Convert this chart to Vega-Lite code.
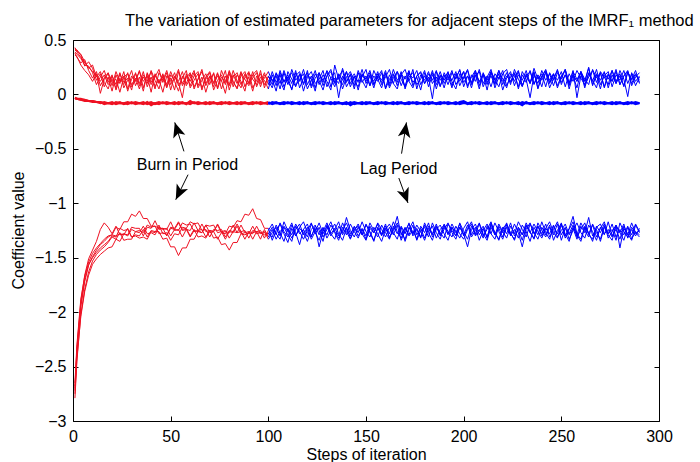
{
"$schema": "https://vega.github.io/schema/vega-lite/v6.json",
"width": 586, "height": 381,
"autosize": "none",
"padding": {"left": 73, "top": 40, "right": 41, "bottom": 41},
"background": "white",
"config": {
 "view": {"stroke": "black", "strokeWidth": 1},
 "font": "Liberation Sans",
 "axis": {"labelColor": "black", "tickColor": "black", "titleColor": "black", "grid": false, "domain": false, "labelFontSize": 16, "titleFontSize": 16, "titleFontWeight": "normal", "tickSize": -5}
},
"title": {"text": "The variation of estimated parameters for adjacent steps of the IMRF₁ method", "anchor": "start", "frame": "group", "dx": 52, "dy": 25, "offset": 15, "baseline": "alphabetic", "fontSize": 16.5, "fontWeight": "normal", "color": "black", "font": "Liberation Sans"},
"datasets": {
"chains": [
{"x":1,"a":0.42,"b":0.40,"c":0.38,"d":0.43,"e":0.36,"f":0.39,"g":-0.03,"h":-0.04,"i":-0.03,"j":-2.79,"k":-2.72,"l":-2.65,"m":-2.75,"n":-2.70,"o":-2.68},
{"x":2,"a":0.39,"b":0.41,"c":0.34,"d":0.40,"e":0.35,"f":0.37,"g":-0.04,"h":-0.04,"i":-0.04,"j":-2.45,"k":-2.38,"l":-2.30,"m":-2.42,"n":-2.35,"o":-2.33},
{"x":4,"a":0.34,"b":0.36,"c":0.29,"d":0.37,"e":0.27,"f":0.33,"g":-0.05,"h":-0.05,"i":-0.04,"j":-2.02,"k":-1.95,"l":-1.88,"m":-2.04,"n":-1.93,"o":-1.90},
{"x":6,"a":0.29,"b":0.26,"c":0.32,"d":0.30,"e":0.22,"f":0.27,"g":-0.05,"h":-0.06,"i":-0.05,"j":-1.79,"k":-1.72,"l":-1.67,"m":-1.81,"n":-1.70,"o":-1.66},
{"x":8,"a":0.25,"b":0.30,"c":0.22,"d":0.24,"e":0.18,"f":0.26,"g":-0.06,"h":-0.06,"i":-0.06,"j":-1.63,"k":-1.57,"l":-1.54,"m":-1.66,"n":-1.56,"o":-1.51},
{"x":10,"a":0.21,"b":0.24,"c":0.15,"d":0.27,"e":0.12,"f":0.20,"g":-0.06,"h":-0.07,"i":-0.06,"j":-1.53,"k":-1.49,"l":-1.46,"m":-1.56,"n":-1.50,"o":-1.43},
{"x":12,"a":0.17,"b":0.13,"c":0.21,"d":0.16,"e":0.19,"f":0.09,"g":-0.07,"h":-0.07,"i":-0.07,"j":-1.47,"k":-1.43,"l":-1.41,"m":-1.51,"n":-1.45,"o":-1.35},
{"x":14,"a":0.12,"b":0.19,"c":0.08,"d":0.21,"e":0.01,"f":0.16,"g":-0.07,"h":-0.08,"i":-0.07,"j":-1.43,"k":-1.38,"l":-1.37,"m":-1.47,"n":-1.41,"o":-1.24},
{"x":16,"a":0.18,"b":0.07,"c":0.15,"d":0.11,"e":0.14,"f":0.22,"g":-0.08,"h":-0.07,"i":-0.09,"j":-1.40,"k":-1.35,"l":-1.33,"m":-1.44,"n":-1.38,"o":-1.18},
{"x":18,"a":0.09,"b":0.16,"c":0.20,"d":0.05,"e":0.19,"f":0.11,"g":-0.08,"h":-0.08,"i":-0.08,"j":-1.36,"k":-1.31,"l":-1.30,"m":-1.41,"n":-1.35,"o":-1.22},
{"x":20,"a":0.14,"b":0.03,"c":0.11,"d":0.17,"e":0.08,"f":0.18,"g":-0.07,"h":-0.08,"i":-0.09,"j":-1.31,"k":-1.29,"l":-1.29,"m":-1.40,"n":-1.30,"o":-1.28},
{"x":22,"a":0.06,"b":0.18,"c":0.14,"d":0.09,"e":0.21,"f":0.04,"g":-0.09,"h":-0.08,"i":-0.07,"j":-1.33,"k":-1.22,"l":-1.30,"m":-1.33,"n":-1.31,"o":-1.21},
{"x":24,"a":0.19,"b":0.10,"c":0.02,"d":0.20,"e":0.12,"f":0.15,"g":-0.08,"h":-0.07,"i":-0.08,"j":-1.27,"k":-1.24,"l":-1.28,"m":-1.35,"n":-1.23,"o":-1.29},
{"x":26,"a":0.11,"b":0.21,"c":0.16,"d":0.06,"e":0.17,"f":0.09,"g":-0.08,"h":-0.09,"i":-0.08,"j":-1.34,"k":-1.17,"l":-1.29,"m":-1.28,"n":-1.25,"o":-1.28},
{"x":28,"a":0.15,"b":0.05,"c":0.19,"d":0.13,"e":0.03,"f":0.20,"g":-0.07,"h":-0.08,"i":-0.09,"j":-1.33,"k":-1.17,"l":-1.23,"m":-1.30,"n":-1.24,"o":-1.29},
{"x":30,"a":0.04,"b":0.17,"c":0.09,"d":0.22,"e":0.14,"f":0.07,"g":-0.08,"h":-0.08,"i":-0.07,"j":-1.33,"k":-1.10,"l":-1.31,"m":-1.24,"n":-1.31,"o":-1.22},
{"x":32,"a":0.20,"b":0.12,"c":0.15,"d":0.08,"e":0.19,"f":0.13,"g":-0.08,"h":-0.07,"i":-0.09,"j":-1.26,"k":-1.12,"l":-1.30,"m":-1.26,"n":-1.29,"o":-1.23},
{"x":34,"a":0.08,"b":0.22,"c":0.05,"d":0.16,"e":0.10,"f":0.21,"g":-0.08,"h":-0.08,"i":-0.08,"j":-1.27,"k":-1.07,"l":-1.32,"m":-1.25,"n":-1.30,"o":-1.23},
{"x":36,"a":0.16,"b":0.06,"c":0.18,"d":0.03,"e":0.21,"f":0.12,"g":-0.07,"h":-0.08,"i":-0.09,"j":-1.21,"k":-1.14,"l":-1.31,"m":-1.27,"n":-1.24,"o":-1.30},
{"x":38,"a":0.10,"b":0.19,"c":0.12,"d":0.20,"e":0.07,"f":0.17,"g":-0.09,"h":-0.08,"i":-0.07,"j":-1.28,"k":-1.14,"l":-1.33,"m":-1.20,"n":-1.31,"o":-1.22},
{"x":40,"a":0.22,"b":0.09,"c":0.21,"d":0.11,"e":0.16,"f":0.02,"g":-0.08,"h":-0.07,"i":-0.10,"j":-1.27,"k":-1.21,"l":-1.26,"m":-1.22,"n":-1.25,"o":-1.23},
{"x":42,"a":0.13,"b":0.16,"c":0.07,"d":0.18,"e":0.05,"f":0.19,"g":-0.08,"h":-0.09,"i":-0.08,"j":-1.29,"k":-1.21,"l":-1.27,"m":-1.21,"n":-1.26,"o":-1.16},
{"x":44,"a":0.05,"b":0.23,"c":0.14,"d":0.10,"e":0.20,"f":0.11,"g":-0.07,"h":-0.08,"i":-0.09,"j":-1.22,"k":-1.23,"l":-1.20,"m":-1.28,"n":-1.26,"o":-1.24},
{"x":46,"a":0.18,"b":0.11,"c":0.02,"d":0.19,"e":0.13,"f":0.16,"g":-0.08,"h":-0.08,"i":-0.07,"j":-1.24,"k":-1.23,"l":-1.28,"m":-1.27,"n":-1.33,"o":-1.23},
{"x":48,"a":0.09,"b":0.20,"c":0.17,"d":0.07,"e":0.22,"f":0.06,"g":-0.08,"h":-0.07,"i":-0.09,"j":-1.23,"k":-1.30,"l":-1.27,"m":-1.29,"n":-1.32,"o":-1.24},
{"x":50,"a":0.21,"b":0.04,"c":0.12,"d":0.15,"e":0.09,"f":0.18,"g":-0.08,"h":-0.08,"i":-0.08,"j":-1.30,"k":-1.23,"l":-1.34,"m":-1.22,"n":-1.40,"o":-1.17},
{"x":52,"a":0.12,"b":0.17,"c":0.20,"d":0.04,"e":0.16,"f":0.13,"g":-0.07,"h":-0.08,"i":-0.09,"j":-1.24,"k":-1.24,"l":-1.28,"m":-1.23,"n":-1.40,"o":-1.25},
{"x":54,"a":0.03,"b":0.12,"c":0.08,"d":0.21,"e":0.11,"f":0.23,"g":-0.09,"h":-0.08,"i":-0.07,"j":-1.25,"k":-1.18,"l":-1.29,"m":-1.17,"n":-1.48,"o":-1.24},
{"x":56,"a":0.17,"b":0.21,"c":0.15,"d":0.10,"e":-0.03,"f":0.08,"g":-0.08,"h":-0.07,"i":-0.08,"j":-1.18,"k":-1.25,"l":-1.22,"m":-1.24,"n":-1.41,"o":-1.31},
{"x":58,"a":0.10,"b":0.08,"c":0.22,"d":0.17,"e":0.19,"f":0.15,"g":-0.08,"h":-0.09,"i":-0.08,"j":-1.20,"k":-1.24,"l":-1.23,"m":-1.23,"n":-1.41,"o":-1.24},
{"x":60,"a":0.19,"b":0.15,"c":0.06,"d":0.12,"e":0.08,"f":0.20,"g":-0.07,"h":-0.06,"i":-0.09,"j":-1.19,"k":-1.31,"l":-1.17,"m":-1.30,"n":-1.33,"o":-1.25},
{"x":62,"a":0.07,"b":0.22,"c":0.13,"d":0.20,"e":0.17,"f":0.05,"g":-0.08,"h":-0.08,"i":-0.07,"j":-1.26,"k":-1.25,"l":-1.19,"m":-1.24,"n":-1.33,"o":-1.18},
{"x":64,"a":0.14,"b":0.06,"c":0.19,"d":0.08,"e":0.21,"f":0.14,"g":-0.08,"h":-0.07,"i":-0.09,"j":-1.25,"k":-1.26,"l":-1.18,"m":-1.31,"n":-1.26,"o":-1.25},
{"x":66,"a":0.23,"b":0.13,"c":0.04,"d":0.16,"e":0.06,"f":0.21,"g":-0.08,"h":-0.08,"i":-0.08,"j":-1.27,"k":-1.19,"l":-1.25,"m":-1.30,"n":-1.27,"o":-1.24},
{"x":68,"a":0.08,"b":0.19,"c":0.16,"d":0.02,"e":0.14,"f":0.10,"g":-0.07,"h":-0.08,"i":-0.09,"j":-1.20,"k":-1.26,"l":-1.24,"m":-1.32,"n":-1.20,"o":-1.31},
{"x":70,"a":0.16,"b":0.09,"c":0.21,"d":0.14,"e":0.20,"f":0.17,"g":-0.09,"h":-0.08,"i":-0.07,"j":-1.21,"k":-1.25,"l":-1.31,"m":-1.25,"n":-1.27,"o":-1.25},
{"x":72,"a":0.11,"b":0.20,"c":0.10,"d":0.19,"e":0.04,"f":0.07,"g":-0.08,"h":-0.07,"i":-0.08,"j":-1.20,"k":-1.32,"l":-1.24,"m":-1.26,"n":-1.26,"o":-1.26},
{"x":74,"a":0.20,"b":0.05,"c":0.17,"d":0.06,"e":0.13,"f":0.19,"g":-0.08,"h":-0.09,"i":-0.08,"j":-1.27,"k":-1.31,"l":-1.25,"m":-1.19,"n":-1.33,"o":-1.20},
{"x":76,"a":0.05,"b":0.16,"c":0.13,"d":0.22,"e":0.18,"f":0.12,"g":-0.07,"h":-0.08,"i":-0.09,"j":-1.26,"k":-1.38,"l":-1.24,"m":-1.26,"n":-1.27,"o":-1.27},
{"x":78,"a":0.17,"b":0.11,"c":0.01,"d":0.13,"e":0.09,"f":0.22,"g":-0.08,"h":-0.08,"i":-0.07,"j":-1.33,"k":-1.37,"l":-1.31,"m":-1.25,"n":-1.28,"o":-1.26},
{"x":80,"a":0.09,"b":0.21,"c":0.19,"d":0.08,"e":0.22,"f":0.04,"g":-0.08,"h":-0.07,"i":-0.09,"j":-1.26,"k":-1.43,"l":-1.25,"m":-1.32,"n":-1.21,"o":-1.27},
{"x":82,"a":0.22,"b":0.07,"c":0.11,"d":0.18,"e":0.12,"f":0.16,"g":-0.08,"h":-0.08,"i":-0.08,"j":-1.27,"k":-1.36,"l":-1.26,"m":-1.26,"n":-1.22,"o":-1.20},
{"x":84,"a":0.12,"b":0.18,"c":0.06,"d":0.10,"e":0.05,"f":0.20,"g":-0.07,"h":-0.08,"i":-0.09,"j":-1.21,"k":-1.36,"l":-1.19,"m":-1.27,"n":-1.16,"o":-1.27},
{"x":86,"a":0.06,"b":0.12,"c":0.20,"d":0.21,"e":0.17,"f":0.09,"g":-0.09,"h":-0.08,"i":-0.07,"j":-1.28,"k":-1.28,"l":-1.26,"m":-1.20,"n":-1.17,"o":-1.26},
{"x":88,"a":0.19,"b":0.03,"c":0.14,"d":0.07,"e":0.21,"f":0.15,"g":-0.08,"h":-0.07,"i":-0.08,"j":-1.27,"k":-1.29,"l":-1.25,"m":-1.27,"n":-1.10,"o":-1.33},
{"x":90,"a":0.10,"b":0.20,"c":0.08,"d":0.16,"e":0.10,"f":0.21,"g":-0.08,"h":-0.09,"i":-0.08,"j":-1.28,"k":-1.27,"l":-1.32,"m":-1.26,"n":-1.11,"o":-1.26},
{"x":92,"a":0.21,"b":0.14,"c":0.18,"d":0.03,"e":0.15,"f":0.06,"g":-0.07,"h":-0.08,"i":-0.09,"j":-1.21,"k":-1.28,"l":-1.25,"m":-1.33,"n":-1.05,"o":-1.27},
{"x":94,"a":0.07,"b":0.09,"c":0.22,"d":0.17,"e":0.20,"f":0.13,"g":-0.08,"h":-0.08,"i":-0.07,"j":-1.28,"k":-1.21,"l":-1.26,"m":-1.26,"n":-1.14,"o":-1.26},
{"x":96,"a":0.16,"b":0.22,"c":0.10,"d":0.12,"e":0.07,"f":0.19,"g":-0.08,"h":-0.07,"i":-0.09,"j":-1.27,"k":-1.28,"l":-1.25,"m":-1.27,"n":-1.15,"o":-1.33},
{"x":98,"a":0.13,"b":0.06,"c":0.15,"d":0.20,"e":0.18,"f":0.09,"g":-0.08,"h":-0.08,"i":-0.08,"j":-1.29,"k":-1.27,"l":-1.32,"m":-1.26,"n":-1.23,"o":-1.24},
{"x":100,"a":0.05,"b":0.17,"c":0.21,"d":0.09,"e":0.13,"f":0.16,"g":-0.07,"h":-0.08,"i":-0.09,"j":-1.28,"k":-1.28,"l":-1.25,"m":-1.33,"n":-1.23,"o":-1.31},
{"x":102,"a":0.18,"b":0.09,"c":0.12,"d":0.21,"e":0.06,"f":0.14,"g":-0.09,"h":-0.08,"i":-0.07,"j":-1.22,"k":-1.31,"l":-1.19,"m":-1.27,"n":-1.34,"o":-1.24},
{"x":104,"a":0.08,"b":0.20,"c":0.17,"d":0.11,"e":0.19,"f":0.03,"g":-0.08,"h":-0.07,"i":-0.08,"j":-1.29,"k":-1.20,"l":-1.28,"m":-1.22,"n":-1.25,"o":-1.33},
{"x":106,"a":0.22,"b":0.13,"c":0.05,"d":0.18,"e":0.10,"f":0.20,"g":-0.08,"h":-0.09,"i":-0.08,"j":-1.18,"k":-1.27,"l":-1.33,"m":-1.30,"n":-1.19,"o":-1.26},
{"x":108,"a":0.11,"b":0.04,"c":0.20,"d":0.07,"e":0.22,"f":0.12,"g":-0.07,"h":-0.08,"i":-0.09,"j":-1.26,"k":-1.35,"l":-1.21,"m":-1.17,"n":-1.28,"o":-1.22},
{"x":110,"a":0.16,"b":0.21,"c":0.09,"d":0.15,"e":0.12,"f":0.18,"g":-0.08,"h":-0.08,"i":-0.07,"j":-1.31,"k":-1.23,"l":-1.26,"m":-1.25,"n":-1.36,"o":-1.29},
{"x":112,"a":0.04,"b":0.14,"c":0.23,"d":0.20,"e":0.05,"f":0.10,"g":-0.08,"h":-0.07,"i":-0.09,"j":-1.20,"k":-1.29,"l":-1.18,"m":-1.32,"n":-1.23,"o":-1.35},
{"x":114,"a":0.20,"b":0.07,"c":0.13,"d":0.08,"e":0.17,"f":0.22,"g":-0.08,"h":-0.08,"i":-0.08,"j":-1.27,"k":-1.19,"l":-1.30,"m":-1.24,"n":-1.30,"o":-1.21},
{"x":116,"a":0.12,"b":0.19,"c":0.18,"d":0.14,"e":0.21,"f":0.06,"g":-0.07,"h":-0.08,"i":-0.09,"j":-1.38,"k":-1.26,"l":-1.23,"m":-1.19,"n":-1.22,"o":-1.28},
{"x":118,"a":0.23,"b":0.10,"c":0.03,"d":0.19,"e":0.09,"f":0.15,"g":-0.09,"h":-0.08,"i":-0.07,"j":-1.24,"k":-1.33,"l":-1.27,"m":-1.29,"n":-1.17,"o":-1.24},
{"x":120,"a":0.09,"b":0.22,"c":0.16,"d":0.05,"e":0.18,"f":0.20,"g":-0.08,"h":-0.07,"i":-0.08,"j":-1.19,"k":-1.25,"l":-1.35,"m":-1.22,"n":-1.27,"o":-1.31},
{"x":122,"a":0.17,"b":0.06,"c":0.21,"d":0.13,"e":0.14,"f":0.08,"g":-0.08,"h":-0.09,"i":-0.08,"j":-1.30,"k":-1.18,"l":-1.24,"m":-1.33,"n":-1.31,"o":-1.19},
{"x":124,"a":0.06,"b":0.15,"c":0.10,"d":0.22,"e":0.03,"f":0.19,"g":-0.07,"h":-0.08,"i":-0.09,"j":-1.23,"k":-1.28,"l":-1.20,"m":-1.26,"n":-1.21,"o":-1.27},
{"x":126,"a":0.19,"b":0.20,"c":0.14,"d":0.09,"e":0.20,"f":0.13,"g":-0.08,"h":-0.08,"i":-0.07,"j":-1.40,"k":-1.22,"l":-1.29,"m":-1.18,"n":-1.25,"o":-1.34},
{"x":128,"a":0.13,"b":0.08,"c":0.22,"d":0.18,"e":0.11,"f":0.04,"g":-0.08,"h":-0.07,"i":-0.09,"j":-1.26,"k":-1.31,"l":-1.22,"m":-1.28,"n":-1.35,"o":-1.23},
{"x":130,"a":0.21,"b":0.17,"c":0.07,"d":0.12,"e":0.22,"f":0.17,"g":-0.08,"h":-0.08,"i":-0.08,"j":-1.18,"k":-1.24,"l":-1.32,"m":-1.21,"n":-1.20,"o":-1.29},
{"x":132,"a":0.07,"b":0.23,"c":0.15,"d":0.04,"e":0.15,"f":0.21,"g":-0.07,"h":-0.08,"i":-0.09,"j":-1.28,"k":-1.17,"l":-1.25,"m":-1.30,"n":-1.28,"o":-1.20},
{"x":134,"a":0.15,"b":0.11,"c":0.20,"d":0.27,"e":0.07,"f":0.10,"g":-0.09,"h":-0.08,"i":-0.07,"j":-1.33,"k":-1.27,"l":-1.19,"m":-1.24,"n":-1.23,"o":-1.26},
{"x":136,"a":0.10,"b":0.18,"c":-0.03,"d":0.14,"e":0.19,"f":0.16,"g":-0.08,"h":-0.07,"i":-0.08,"j":-1.21,"k":-1.34,"l":-1.28,"m":-1.17,"n":-1.30,"o":-1.32},
{"x":138,"a":0.24,"b":0.05,"c":0.17,"d":0.09,"e":0.13,"f":0.22,"g":-0.08,"h":-0.09,"i":-0.08,"j":-1.27,"k":-1.22,"l":-1.34,"m":-1.29,"n":-1.18,"o":-1.25},
{"x":140,"a":0.12,"b":0.16,"c":0.11,"d":0.21,"e":0.21,"f":0.07,"g":-0.07,"h":-0.08,"i":-0.09,"j":-1.13,"k":-1.29,"l":-1.23,"m":-1.22,"n":-1.26,"o":-1.18},
{"x":142,"a":0.18,"b":0.21,"c":0.19,"d":0.07,"e":0.10,"f":0.14,"g":-0.10,"h":-0.08,"i":-0.07,"j":-1.25,"k":-1.19,"l":-1.30,"m":-1.32,"n":-1.33,"o":-1.28},
{"x":144,"a":0.05,"b":0.12,"c":0.08,"d":0.16,"e":0.17,"f":0.19,"g":-0.08,"h":-0.07,"i":-0.09,"j":-1.31,"k":-1.26,"l":-1.21,"m":-1.25,"n":-1.24,"o":-1.22},
{"x":146,"a":0.20,"b":0.07,"c":0.22,"d":0.12,"e":0.04,"f":0.11,"g":-0.08,"h":-0.08,"i":-0.08,"j":-1.22,"k":-1.32,"l":-1.27,"m":-1.19,"n":-1.21,"o":-1.30},
{"x":148,"a":0.11,"b":0.19,"c":0.13,"d":0.23,"e":0.18,"f":0.16,"g":-0.07,"h":-0.08,"i":-0.09,"j":-1.29,"k":-1.23,"l":-1.17,"m":-1.28,"n":-1.29,"o":-1.24},
{"x":150,"a":0.17,"b":0.14,"c":0.06,"d":0.10,"e":0.12,"f":0.23,"g":-0.09,"h":-0.08,"i":-0.07,"j":-1.20,"k":-1.30,"l":-1.26,"m":-1.34,"n":-1.19,"o":-1.33},
{"x":152,"a":0.08,"b":0.22,"c":0.18,"d":0.17,"e":0.20,"f":0.08,"g":-0.08,"h":-0.07,"i":-0.08,"j":-1.26,"k":-1.18,"l":-1.31,"m":-1.23,"n":-1.27,"o":-1.21},
{"x":154,"a":0.22,"b":0.09,"c":0.12,"d":0.06,"e":0.09,"f":0.17,"g":-0.08,"h":-0.09,"i":-0.08,"j":-1.34,"k":-1.25,"l":-1.22,"m":-1.27,"n":-1.35,"o":-1.27},
{"x":156,"a":0.14,"b":0.17,"c":0.21,"d":0.19,"e":0.16,"f":0.12,"g":-0.07,"h":-0.08,"i":-0.09,"j":-1.23,"k":-1.31,"l":-1.28,"m":-1.18,"n":-1.22,"o":-1.19},
{"x":158,"a":0.06,"b":0.11,"c":0.09,"d":0.13,"e":0.22,"f":0.20,"g":-0.08,"h":-0.08,"i":-0.07,"j":-1.28,"k":-1.20,"l":-1.35,"m":-1.24,"n":-1.30,"o":-1.29},
{"x":160,"a":0.19,"b":0.20,"c":0.16,"d":0.22,"e":0.05,"f":0.06,"g":-0.08,"h":-0.07,"i":-0.09,"j":-1.19,"k":-1.27,"l":-1.24,"m":-1.31,"n":-1.21,"o":-1.23},
{"x":162,"a":0.10,"b":0.06,"c":0.23,"d":0.08,"e":0.14,"f":0.18,"g":-0.08,"h":-0.08,"i":-0.08,"j":-1.32,"k":-1.33,"l":-1.19,"m":-1.22,"n":-1.28,"o":-1.31},
{"x":164,"a":0.23,"b":0.15,"c":0.10,"d":0.18,"e":0.19,"f":0.10,"g":-0.07,"h":-0.08,"i":-0.09,"j":-1.24,"k":-1.21,"l":-1.27,"m":-1.29,"n":-1.17,"o":-1.25},
{"x":166,"a":0.13,"b":0.21,"c":0.05,"d":0.11,"e":0.08,"f":0.21,"g":-0.09,"h":-0.08,"i":-0.07,"j":-1.12,"k":-1.28,"l":-1.33,"m":-1.20,"n":-1.26,"o":-1.18},
{"x":168,"a":0.18,"b":0.08,"c":0.19,"d":0.21,"e":0.18,"f":0.14,"g":-0.08,"h":-0.07,"i":-0.08,"j":-1.29,"k":-1.22,"l":-1.21,"m":-1.34,"n":-1.32,"o":-1.27},
{"x":170,"a":0.07,"b":0.17,"c":0.14,"d":0.05,"e":0.23,"f":0.07,"g":-0.08,"h":-0.09,"i":-0.08,"j":-1.22,"k":-1.35,"l":-1.28,"m":-1.25,"n":-1.23,"o":-1.33},
{"x":172,"a":0.21,"b":0.12,"c":0.22,"d":0.16,"e":0.12,"f":0.19,"g":-0.07,"h":-0.08,"i":-0.09,"j":-1.30,"k":-1.24,"l":-1.18,"m":-1.19,"n":-1.29,"o":-1.22},
{"x":174,"a":0.11,"b":0.23,"c":0.08,"d":0.20,"e":0.06,"f":0.15,"g":-0.08,"h":-0.08,"i":-0.07,"j":-1.25,"k":-1.17,"l":-1.30,"m":-1.28,"n":-1.20,"o":-1.28},
{"x":176,"a":0.16,"b":0.05,"c":0.17,"d":0.09,"e":0.17,"f":0.22,"g":-0.08,"h":-0.07,"i":-0.09,"j":-1.33,"k":-1.29,"l":-1.24,"m":-1.23,"n":-1.34,"o":-1.20},
{"x":178,"a":0.04,"b":0.18,"c":0.20,"d":0.14,"e":0.21,"f":0.09,"g":-0.08,"h":-0.08,"i":-0.08,"j":-1.21,"k":-1.23,"l":-1.32,"m":-1.31,"n":-1.25,"o":-1.26},
{"x":180,"a":0.20,"b":0.13,"c":0.10,"d":0.22,"e":0.10,"f":0.17,"g":-0.07,"h":-0.08,"i":-0.09,"j":-1.27,"k":-1.32,"l":-1.20,"m":-1.18,"n":-1.22,"o":-1.34},
{"x":182,"a":0.12,"b":0.21,"c":0.16,"d":0.07,"e":0.19,"f":0.12,"g":-0.09,"h":-0.08,"i":-0.07,"j":-1.18,"k":-1.21,"l":-1.27,"m":-1.26,"n":-1.31,"o":-1.23},
{"x":184,"a":0.22,"b":0.10,"c":-0.04,"d":0.18,"e":0.13,"f":0.20,"g":-0.08,"h":-0.07,"i":-0.08,"j":-1.31,"k":-1.28,"l":-1.34,"m":-1.21,"n":-1.18,"o":-1.29},
{"x":186,"a":0.09,"b":0.16,"c":0.21,"d":0.12,"e":0.22,"f":0.05,"g":-0.08,"h":-0.09,"i":-0.08,"j":-1.24,"k":-1.19,"l":-1.22,"m":-1.32,"n":-1.27,"o":-1.21},
{"x":188,"a":0.17,"b":0.07,"c":0.13,"d":0.21,"e":0.08,"f":0.18,"g":-0.07,"h":-0.08,"i":-0.09,"j":-1.20,"k":-1.30,"l":-1.29,"m":-1.24,"n":-1.33,"o":-1.27},
{"x":190,"a":0.06,"b":0.20,"c":0.18,"d":0.10,"e":0.16,"f":0.13,"g":-0.08,"h":-0.08,"i":-0.07,"j":-1.28,"k":-1.24,"l":-1.19,"m":-1.20,"n":-1.21,"o":-1.32},
{"x":192,"a":0.19,"b":0.13,"c":0.09,"d":0.17,"e":0.20,"f":0.21,"g":-0.08,"h":-0.07,"i":-0.09,"j":-1.34,"k":-1.18,"l":-1.26,"m":-1.29,"n":-1.28,"o":-1.19},
{"x":194,"a":0.13,"b":0.22,"c":0.20,"d":0.06,"e":0.12,"f":0.08,"g":-0.08,"h":-0.08,"i":-0.08,"j":-1.22,"k":-1.27,"l":-1.31,"m":-1.22,"n":-1.19,"o":-1.25},
{"x":196,"a":0.21,"b":0.09,"c":0.14,"d":0.19,"e":0.05,"f":0.16,"g":-0.07,"h":-0.08,"i":-0.09,"j":-1.27,"k":-1.33,"l":-1.21,"m":-1.30,"n":-1.26,"o":-1.30},
{"x":198,"a":0.08,"b":0.15,"c":0.23,"d":0.12,"e":0.19,"f":0.22,"g":-0.09,"h":-0.08,"i":-0.07,"j":-1.19,"k":-1.22,"l":-1.28,"m":-1.18,"n":-1.32,"o":-1.22},
{"x":200,"a":0.16,"b":0.21,"c":0.07,"d":0.21,"e":0.14,"f":0.11,"g":-0.08,"h":-0.07,"i":-0.06,"j":-1.30,"k":-1.29,"l":-1.33,"m":-1.26,"n":-1.23,"o":-1.28},
{"x":202,"a":0.23,"b":0.06,"c":0.17,"d":0.08,"e":0.22,"f":0.17,"g":-0.08,"h":-0.09,"i":-0.08,"j":-1.23,"k":-1.20,"l":-1.24,"m":-1.33,"n":-1.17,"o":-1.40},
{"x":204,"a":0.10,"b":0.18,"c":0.11,"d":0.16,"e":0.09,"f":0.06,"g":-0.07,"h":-0.08,"i":-0.09,"j":-1.17,"k":-1.31,"l":-1.19,"m":-1.21,"n":-1.29,"o":-1.24},
{"x":206,"a":0.18,"b":0.12,"c":0.22,"d":0.22,"e":0.17,"f":0.20,"g":-0.08,"h":-0.08,"i":-0.07,"j":-1.29,"k":-1.25,"l":-1.30,"m":-1.28,"n":-1.22,"o":-1.19},
{"x":208,"a":0.05,"b":0.23,"c":0.08,"d":0.11,"e":0.21,"f":0.12,"g":-0.08,"h":-0.07,"i":-0.09,"j":-1.24,"k":-1.18,"l":-1.26,"m":-1.19,"n":-1.34,"o":-1.29},
{"x":210,"a":0.20,"b":0.10,"c":0.19,"d":0.18,"e":0.07,"f":0.18,"g":-0.08,"h":-0.08,"i":-0.08,"j":-1.32,"k":-1.28,"l":-1.21,"m":-1.30,"n":-1.25,"o":-1.23},
{"x":212,"a":0.11,"b":0.17,"c":0.13,"d":0.04,"e":0.16,"f":0.09,"g":-0.07,"h":-0.08,"i":-0.09,"j":-1.21,"k":-1.34,"l":-1.32,"m":-1.24,"n":-1.19,"o":-1.31},
{"x":214,"a":0.17,"b":0.07,"c":0.21,"d":0.20,"e":0.23,"f":0.21,"g":-0.09,"h":-0.08,"i":-0.07,"j":-1.28,"k":-1.22,"l":-1.18,"m":-1.17,"n":-1.28,"o":-1.20},
{"x":216,"a":0.09,"b":0.19,"c":0.06,"d":0.13,"e":0.10,"f":0.14,"g":-0.08,"h":-0.07,"i":-0.08,"j":-1.18,"k":-1.29,"l":-1.27,"m":-1.29,"n":-1.33,"o":-1.27},
{"x":218,"a":0.22,"b":0.14,"c":0.16,"d":0.22,"e":0.19,"f":0.07,"g":-0.08,"h":-0.09,"i":-0.08,"j":-1.26,"k":-1.19,"l":-1.34,"m":-1.23,"n":-1.21,"o":-1.33},
{"x":220,"a":0.14,"b":0.22,"c":0.12,"d":0.09,"e":0.04,"f":0.19,"g":-0.07,"h":-0.08,"i":-0.09,"j":-1.33,"k":-1.26,"l":-1.23,"m":-1.31,"n":-1.27,"o":-1.22},
{"x":222,"a":0.06,"b":0.08,"c":0.20,"d":0.17,"e":0.15,"f":0.23,"g":-0.08,"h":-0.08,"i":-0.07,"j":-1.22,"k":-1.32,"l":-1.19,"m":-1.20,"n":-1.18,"o":-1.28},
{"x":224,"a":0.19,"b":0.16,"c":0.09,"d":0.12,"e":0.21,"f":0.11,"g":-0.08,"h":-0.07,"i":-0.09,"j":-1.29,"k":-1.21,"l":-1.28,"m":-1.27,"n":-1.30,"o":-1.18},
{"x":226,"a":0.12,"b":0.20,"c":0.23,"d":0.19,"e":0.08,"f":0.16,"g":-0.08,"h":-0.08,"i":-0.08,"j":-1.19,"k":-1.28,"l":-1.33,"m":-1.34,"n":-1.24,"o":-1.30},
{"x":228,"a":0.21,"b":0.05,"c":0.14,"d":0.07,"e":0.18,"f":0.22,"g":-0.07,"h":-0.08,"i":-0.09,"j":-1.27,"k":-1.17,"l":-1.22,"m":-1.22,"n":-1.32,"o":-1.24},
{"x":230,"a":0.08,"b":0.18,"c":0.07,"d":0.21,"e":0.13,"f":0.08,"g":-0.09,"h":-0.10,"i":-0.07,"j":-1.40,"k":-1.24,"l":-1.29,"m":-1.29,"n":-1.20,"o":-1.34},
{"x":232,"a":0.17,"b":0.11,"c":0.19,"d":0.14,"e":0.22,"f":0.17,"g":-0.08,"h":-0.07,"i":-0.08,"j":-1.24,"k":-1.31,"l":-1.20,"m":-1.18,"n":-1.26,"o":-1.21},
{"x":234,"a":0.10,"b":0.22,"c":0.11,"d":-0.03,"e":0.10,"f":0.21,"g":-0.08,"h":-0.09,"i":-0.08,"j":-1.18,"k":-1.19,"l":-1.27,"m":-1.26,"n":-1.35,"o":-1.27},
{"x":236,"a":0.24,"b":0.09,"c":0.21,"d":0.18,"e":0.20,"f":0.10,"g":-0.07,"h":-0.08,"i":-0.09,"j":-1.28,"k":-1.27,"l":-1.32,"m":-1.33,"n":-1.22,"o":-1.19},
{"x":238,"a":0.14,"b":0.17,"c":0.05,"d":0.10,"e":0.06,"f":0.18,"g":-0.08,"h":-0.08,"i":-0.07,"j":-1.21,"k":-1.33,"l":-1.18,"m":-1.21,"n":-1.29,"o":-1.26},
{"x":240,"a":0.19,"b":0.07,"c":0.17,"d":0.22,"e":0.16,"f":0.13,"g":-0.08,"h":-0.07,"i":-0.09,"j":-1.30,"k":-1.22,"l":-1.25,"m":-1.28,"n":-1.17,"o":-1.32},
{"x":242,"a":0.07,"b":0.21,"c":0.22,"d":0.13,"e":0.23,"f":0.20,"g":-0.08,"h":-0.08,"i":-0.08,"j":-1.23,"k":-1.29,"l":-1.31,"m":-1.19,"n":-1.27,"o":-1.23},
{"x":244,"a":0.20,"b":0.13,"c":0.10,"d":0.19,"e":0.11,"f":0.06,"g":-0.07,"h":-0.08,"i":-0.09,"j":-1.17,"k":-1.20,"l":-1.22,"m":-1.31,"n":-1.33,"o":-1.28},
{"x":246,"a":0.13,"b":0.19,"c":0.18,"d":0.08,"e":0.19,"f":0.15,"g":-0.09,"h":-0.08,"i":-0.07,"j":-1.27,"k":-1.34,"l":-1.29,"m":-1.24,"n":-1.21,"o":-1.20},
{"x":248,"a":0.23,"b":0.06,"c":0.13,"d":0.20,"e":0.08,"f":0.22,"g":-0.08,"h":-0.07,"i":-0.08,"j":-1.32,"k":-1.25,"l":-1.19,"m":-1.17,"n":-1.28,"o":-1.31},
{"x":250,"a":0.09,"b":0.16,"c":0.21,"d":0.14,"e":0.17,"f":0.11,"g":-0.08,"h":-0.09,"i":-0.08,"j":-1.20,"k":-1.18,"l":-1.34,"m":-1.29,"n":-1.19,"o":-1.25},
{"x":252,"a":0.18,"b":0.23,"c":0.07,"d":0.23,"e":0.22,"f":0.18,"g":-0.07,"h":-0.08,"i":-0.09,"j":-1.28,"k":-1.30,"l":-1.23,"m":-1.22,"n":-1.32,"o":-1.19},
{"x":254,"a":0.11,"b":0.10,"c":0.19,"d":0.10,"e":0.05,"f":0.08,"g":-0.08,"h":-0.08,"i":-0.07,"j":-1.35,"k":-1.23,"l":-1.28,"m":-1.33,"n":-1.24,"o":-1.29},
{"x":256,"a":0.22,"b":0.18,"c":0.12,"d":0.17,"e":0.18,"f":0.21,"g":-0.08,"h":-0.07,"i":-0.09,"j":-1.22,"k":-1.12,"l":-1.20,"m":-1.25,"n":-1.17,"o":-1.23},
{"x":258,"a":-0.03,"b":0.12,"c":0.22,"d":0.06,"e":0.12,"f":0.14,"g":-0.08,"h":-0.08,"i":-0.08,"j":-1.29,"k":-1.28,"l":-1.31,"m":-1.18,"n":-1.29,"o":-1.33},
{"x":260,"a":0.17,"b":0.21,"c":0.15,"d":0.21,"e":0.21,"f":0.20,"g":-0.07,"h":-0.08,"i":-0.09,"j":-1.18,"k":-1.33,"l":-1.24,"m":-1.27,"n":-1.35,"o":-1.21},
{"x":262,"a":0.12,"b":0.08,"c":0.09,"d":0.12,"e":0.14,"f":0.06,"g":-0.09,"h":-0.08,"i":-0.07,"j":-1.25,"k":-1.21,"l":-1.18,"m":-1.32,"n":-1.22,"o":-1.27},
{"x":264,"a":0.25,"b":0.16,"c":0.20,"d":0.24,"e":0.09,"f":0.19,"g":-0.08,"h":-0.07,"i":-0.08,"j":-1.31,"k":-1.27,"l":-1.29,"m":-1.20,"n":-1.28,"o":-1.13},
{"x":266,"a":0.08,"b":0.22,"c":0.13,"d":0.09,"e":0.23,"f":0.12,"g":-0.08,"h":-0.09,"i":-0.08,"j":-1.19,"k":-1.35,"l":-1.33,"m":-1.26,"n":-1.20,"o":-1.30},
{"x":268,"a":0.19,"b":0.11,"c":0.06,"d":0.18,"e":0.15,"f":0.23,"g":-0.07,"h":-0.08,"i":-0.09,"j":-1.27,"k":-1.22,"l":-1.21,"m":-1.34,"n":-1.31,"o":-1.24},
{"x":270,"a":0.13,"b":0.20,"c":0.21,"d":0.05,"e":0.20,"f":0.09,"g":-0.08,"h":-0.08,"i":-0.07,"j":-1.33,"k":-1.19,"l":-1.27,"m":-1.22,"n":-1.23,"o":-1.35},
{"x":272,"a":0.21,"b":0.07,"c":0.16,"d":0.20,"e":0.06,"f":0.17,"g":-0.08,"h":-0.07,"i":-0.09,"j":-1.21,"k":-1.28,"l":-1.19,"m":-1.29,"n":-1.17,"o":-1.22},
{"x":274,"a":0.06,"b":0.19,"c":0.09,"d":0.14,"e":0.18,"f":0.21,"g":-0.08,"h":-0.08,"i":-0.08,"j":-1.28,"k":-1.24,"l":-1.32,"m":-1.17,"n":-1.29,"o":-1.28},
{"x":276,"a":0.18,"b":0.12,"c":0.22,"d":0.22,"e":0.12,"f":0.07,"g":-0.07,"h":-0.08,"i":-0.09,"j":-1.24,"k":-1.31,"l":-1.26,"m":-1.30,"n":-1.34,"o":-1.19},
{"x":278,"a":0.10,"b":0.23,"c":0.12,"d":0.10,"e":0.21,"f":0.18,"g":-0.09,"h":-0.08,"i":-0.07,"j":-1.34,"k":-1.20,"l":-1.20,"m":-1.24,"n":-1.21,"o":-1.31},
{"x":280,"a":0.22,"b":0.09,"c":0.19,"d":0.17,"e":0.09,"f":0.13,"g":-0.08,"h":-0.07,"i":-0.08,"j":-1.18,"k":-1.27,"l":-1.41,"m":-1.33,"n":-1.27,"o":-1.24},
{"x":282,"a":0.14,"b":0.17,"c":0.07,"d":0.08,"e":0.17,"f":0.22,"g":-0.08,"h":-0.09,"i":-0.08,"j":-1.26,"k":-1.34,"l":-1.23,"m":-1.21,"n":-1.19,"o":-1.29},
{"x":284,"a":-0.02,"b":0.21,"c":0.20,"d":0.21,"e":0.22,"f":0.10,"g":-0.07,"h":-0.08,"i":-0.09,"j":-1.31,"k":-1.22,"l":-1.29,"m":-1.28,"n":-1.32,"o":-1.21},
{"x":286,"a":0.20,"b":0.10,"c":0.14,"d":0.13,"e":0.08,"f":0.19,"g":-0.08,"h":-0.08,"i":-0.07,"j":-1.22,"k":-1.29,"l":-1.18,"m":-1.34,"n":-1.24,"o":-1.33},
{"x":288,"a":0.12,"b":0.18,"c":0.22,"d":0.19,"e":0.16,"f":0.08,"g":-0.08,"h":-0.07,"i":-0.09,"j":-1.28,"k":-1.19,"l":-1.27,"m":-1.20,"n":-1.30,"o":-1.26},
{"x":290,"a":0.17,"b":0.13,"c":0.10,"d":0.11,"e":0.20,"f":0.16,"g":-0.08,"h":-0.08,"i":-0.08,"j":-1.25,"k":-1.26,"l":-1.31,"m":-1.27,"n":-1.23,"o":-1.29}
],
"arrows": [
{"x":56.8,"y":-0.523,"x2":52.1,"y2":-0.257},
{"x":58.9,"y":-0.737,"x2":52.6,"y2":-0.967},
{"x":168.2,"y":-0.544,"x2":170.7,"y2":-0.257},
{"x":166.8,"y":-0.768,"x2":171.5,"y2":-0.997}
],
"labels": [
{"x":58.6,"y":-0.646,"t":"Burn in Period"},
{"x":166.7,"y":-0.682,"t":"Lag Period"}
]
},
"layer": [
{
 "data": {"name": "chains"},
 "transform": [
  {"fold": ["a","b","c","d","e","f","g","h","i","j","k","l","m","n","o"], "as": ["chain","v"]},
  {"filter": "datum.x <= 100"}
 ],
 "mark": {"type": "line", "color": "#ee1122"},
 "encoding": {
  "x": {"field": "x", "type": "quantitative", "scale": {"domain": [0,300], "nice": false, "zero": false},
        "axis": {"orient": "bottom", "values": [0,50,100,150,200,250,300], "format": "d", "labelPadding": 12, "labelFlush": false, "title": "Steps of iteration", "titleX": 293, "titleY": 33, "titleBaseline": "middle", "titleAlign": "center"}},
  "y": {"field": "v", "type": "quantitative", "scale": {"domain": [-3,0.5], "nice": false, "zero": false},
        "axis": {"orient": "left", "values": [-3,-2.5,-2,-1.5,-1,-0.5,0,0.5], "format": "~g", "labelPadding": 12, "labelFlush": false, "title": "Coefficient value", "titleX": -55, "titleY": 190, "titleAngle": 270, "titleBaseline": "middle", "titleAlign": "center"}},
  "detail": {"field": "chain"},
  "strokeWidth": {"condition": {"test": "indexof(['g','h','i'], datum.chain) >= 0", "value": 2}, "value": 1}
 }
},
{
 "data": {"name": "chains"},
 "transform": [
  {"fold": ["a","b","c","d","e","f","g","h","i","j","k","l","m","n","o"], "as": ["chain","v"]},
  {"filter": "datum.x >= 100"}
 ],
 "mark": {"type": "line", "color": "#0000ff"},
 "encoding": {
  "x": {"field": "x", "type": "quantitative", "axis": null},
  "y": {"field": "v", "type": "quantitative", "axis": null},
  "detail": {"field": "chain"},
  "strokeWidth": {"condition": {"test": "indexof(['g','h','i'], datum.chain) >= 0", "value": 2}, "value": 1}
 }
},
{
 "data": {"name": "arrows"},
 "mark": {"type": "rule", "color": "black", "strokeWidth": 1},
 "encoding": {
  "x": {"field": "x", "type": "quantitative", "axis": null},
  "y": {"field": "y", "type": "quantitative", "axis": null},
  "x2": {"field": "x2"},
  "y2": {"field": "y2"}
 }
},
{
 "data": {"name": "arrows"},
 "transform": [{"calculate": "atan2((datum.x2 - datum.x) * 1.9533, (datum.y2 - datum.y) * 108.86) * 180 / PI", "as": "ang"}],
 "mark": {"type": "point", "shape": "M0,0 L0.42,1 L0,0.75 L-0.42,1 Z", "filled": true, "color": "black", "opacity": 1, "size": 900, "strokeWidth": 0},
 "encoding": {
  "x": {"field": "x2", "type": "quantitative", "axis": null},
  "y": {"field": "y2", "type": "quantitative", "axis": null},
  "angle": {"field": "ang", "type": "quantitative", "scale": null}
 }
},
{
 "data": {"name": "labels"},
 "mark": {"type": "text", "fontSize": 16, "color": "black", "align": "center", "baseline": "middle", "font": "Liberation Sans"},
 "encoding": {
  "x": {"field": "x", "type": "quantitative", "axis": {"orient": "top", "values": [0,50,100,150,200,250,300], "labels": false, "title": null}},
  "y": {"field": "y", "type": "quantitative", "axis": {"orient": "right", "values": [-3,-2.5,-2,-1.5,-1,-0.5,0,0.5], "labels": false, "title": null}},
  "text": {"field": "t"}
 }
}
],
"resolve": {"axis": {"x": "independent", "y": "independent"}}
}
